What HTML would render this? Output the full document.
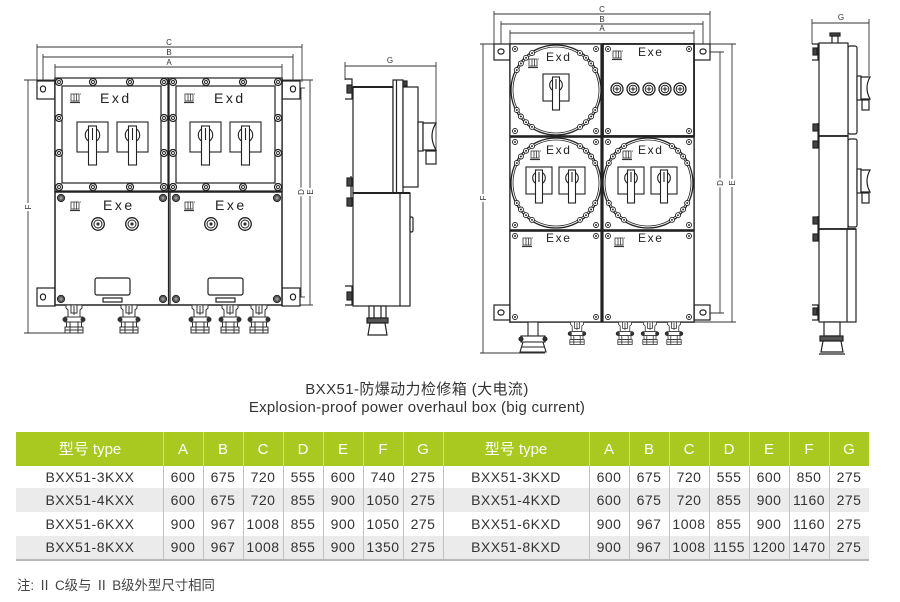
<!DOCTYPE html>
<html><head><meta charset="utf-8">
<style>
html,body{margin:0;padding:0;background:#fff;width:900px;height:602px;overflow:hidden;}
svg{display:block;}
text{font-family:"Liberation Sans","Noto Sans CJK SC",sans-serif;}
.lbl{font-size:14px;fill:#222;letter-spacing:2.5px;}
.lbl2{font-size:12px;fill:#222;letter-spacing:1.6px;}
.dim{font-size:8px;fill:#333;}
.dimr{font-size:8px;fill:#333;paint-order:stroke;stroke:#fff;stroke-width:4px;}
.hd{font-size:15px;fill:#fff;}
.td{font-size:14px;fill:#333;letter-spacing:0.5px;}
</style></head><body>
<svg width="900" height="602" viewBox="0 0 900 602" xmlns="http://www.w3.org/2000/svg">
<defs>
  <g id="b"><circle r="3.5" fill="#fff" stroke="#222" stroke-width="1.2"/><circle r="1.5" fill="none" stroke="#222" stroke-width="0.9"/></g>
  <g id="bs"><circle r="2.5" fill="#fff" stroke="#222" stroke-width="0.9"/><circle r="1" fill="#333"/></g>
  <g id="bf"><circle r="3.7" fill="#555" stroke="#222" stroke-width="0.8"/><circle r="1.6" fill="#999"/></g>
  <g id="lg" fill="none" stroke="#333" stroke-width="0.8">
    <rect x="1" y="0" width="8" height="7"/><line x1="4" y1="0" x2="4" y2="7"/><line x1="6.5" y1="0" x2="6.5" y2="7"/>
    <line x1="0" y1="8.5" x2="10" y2="8.5" stroke-width="1.2"/><line x1="10" y1="0" x2="11" y2="0"/>
  </g>
  <g id="sw" stroke="#222" stroke-width="1.1">
    <rect x="0" y="0" width="31" height="30" fill="#fff"/>
    <circle cx="15.5" cy="13" r="7.2" fill="#fff"/>
    <rect x="11.5" y="4" width="8" height="39" fill="#fff"/>
    <line x1="15.5" y1="6" x2="15.5" y2="18"/>
  </g>
  <g id="sw2" stroke="#222" stroke-width="1.1">
    <rect x="0" y="0" width="26" height="27" fill="#fff"/>
    <circle cx="13" cy="11" r="6.3" fill="#fff"/>
    <rect x="9.5" y="3" width="7" height="33" fill="#fff"/>
    <line x1="13" y1="5" x2="13" y2="15"/>
  </g>
  <g id="ind"><circle r="6.3" fill="#fff" stroke="#222" stroke-width="1.3"/><circle r="4" fill="#fff" stroke="#222" stroke-width="1"/><circle r="1.6" fill="#333"/></g>
  <g id="ind2"><circle r="6" fill="#fff" stroke="#222" stroke-width="1.3"/><circle r="3.8" fill="#fff" stroke="#222" stroke-width="1"/><line x1="-2.5" y1="0" x2="2.5" y2="0" stroke="#222"/><line x1="0" y1="-2.5" x2="0" y2="2.5" stroke="#222"/></g>
  <g id="gl" fill="#fff" stroke="#333" stroke-width="1">
    <path d="M-8,0 L-8,3 L-6,5 L-6,12 L6,12 L6,5 L8,3 L8,0 Z"/>
    <path d="M-3,0 L-3,8 L3,8 L3,0" fill="none"/>
    <line x1="0" y1="1" x2="0" y2="10"/>
    <rect x="-9" y="12" width="18" height="5"/>
    <rect x="-7.5" y="17" width="15" height="5"/>
    <rect x="-9" y="22" width="18" height="6"/>
    <line x1="-9" y1="25" x2="9" y2="25"/>
    <line x1="-4" y1="17" x2="-4" y2="28"/><line x1="4" y1="17" x2="4" y2="28"/>
    <circle cx="-9" cy="14.5" r="2" fill="#333"/><circle cx="9" cy="14.5" r="2" fill="#333"/>
  </g>
  <g id="ring">
    <circle r="45" fill="#fff" stroke="#222" stroke-width="1.3"/>
    <circle r="43" fill="none" stroke="#222" stroke-width="0.8"/>
    <use href="#bs" x="-39.2" y="-20"/><use href="#bs" x="-35.1" y="-26.5"/><use href="#bs" x="-30" y="-32.2"/><use href="#bs" x="-24" y="-36.9"/>
    <use href="#bs" x="39.2" y="-20"/><use href="#bs" x="35.1" y="-26.5"/><use href="#bs" x="30" y="-32.2"/><use href="#bs" x="24" y="-36.9"/>
    <use href="#bs" x="39.2" y="20"/><use href="#bs" x="35.1" y="26.5"/><use href="#bs" x="30" y="32.2"/><use href="#bs" x="24" y="36.9"/>
    <use href="#bs" x="-39.2" y="20"/><use href="#bs" x="-35.1" y="26.5"/><use href="#bs" x="-30" y="32.2"/><use href="#bs" x="-24" y="36.9"/>
  </g>
</defs>

<!-- ============ LEFT FRONT VIEW ============ -->
<g fill="none" stroke="#333" stroke-width="0.9">
  <line x1="37" y1="47" x2="302" y2="47"/><line x1="37" y1="44" x2="37" y2="82"/><line x1="302" y1="44" x2="302" y2="82"/>
  <line x1="43" y1="57" x2="293" y2="57"/><line x1="43" y1="54" x2="43" y2="86"/><line x1="293" y1="54" x2="293" y2="86"/>
  <line x1="55" y1="67" x2="282" y2="67"/><line x1="55" y1="64" x2="55" y2="80"/><line x1="282" y1="64" x2="282" y2="80"/>
  <line x1="24" y1="80" x2="313" y2="80"/>
  <line x1="28" y1="80" x2="28" y2="333"/><line x1="24" y1="333" x2="66" y2="333"/>
  <line x1="301" y1="88" x2="301" y2="297"/><line x1="290" y1="88" x2="305" y2="88"/><line x1="290" y1="297" x2="305" y2="297"/>
  <line x1="310" y1="80" x2="310" y2="305"/><line x1="282" y1="305" x2="313" y2="305"/>
</g>
<text class="dim" x="169" y="45" text-anchor="middle">C</text>
<text class="dim" x="169" y="55" text-anchor="middle">B</text>
<text class="dim" x="169" y="65" text-anchor="middle">A</text>
<text class="dimr" transform="translate(31,207) rotate(-90)" text-anchor="middle">F</text>
<text class="dimr" transform="translate(304,192) rotate(-90)" text-anchor="middle">D</text>
<text class="dimr" transform="translate(313,192) rotate(-90)" text-anchor="middle">E</text>

<g stroke="#222" stroke-width="1.2" fill="#fff">
  <rect x="37" y="81" width="18" height="18"/><rect x="282" y="81" width="18" height="18"/>
  <rect x="37" y="288" width="18" height="18"/><rect x="282" y="288" width="18" height="18"/>
  <rect x="40.5" y="86" width="5" height="6" rx="2.5"/><rect x="290.5" y="86" width="5" height="6" rx="2.5"/>
  <rect x="40.5" y="294" width="5" height="6" rx="2.5"/><rect x="290.5" y="294" width="5" height="6" rx="2.5"/>
  <rect x="55" y="79" width="227" height="226" stroke-width="1.5"/>
  <rect x="55" y="78" width="113" height="113"/><rect x="62" y="86" width="99" height="97"/>
  <rect x="169" y="78" width="113" height="113"/><rect x="176" y="86" width="99" height="97"/>
  <line x1="55" y1="192" x2="282" y2="192" stroke-width="1.5"/>
  <line x1="168.5" y1="192" x2="168.5" y2="305"/><line x1="170" y1="192" x2="170" y2="305"/>
  <rect x="95" y="278" width="35" height="17" rx="2"/><rect x="208" y="278" width="35" height="17" rx="2"/>
  <rect x="103" y="298" width="19" height="4"/><rect x="216" y="298" width="19" height="4"/>
</g>
<g>
  <use href="#b" x="59" y="82"/><use href="#b" x="93" y="82"/><use href="#b" x="130" y="82"/><use href="#b" x="164" y="82"/>
  <use href="#b" x="59" y="187"/><use href="#b" x="93" y="187"/><use href="#b" x="130" y="187"/><use href="#b" x="164" y="187"/>
  <use href="#b" x="59" y="118"/><use href="#b" x="59" y="153"/><use href="#b" x="164" y="118"/><use href="#b" x="164" y="153"/>
  <use href="#b" x="173" y="82"/><use href="#b" x="206" y="82"/><use href="#b" x="243" y="82"/><use href="#b" x="278" y="82"/>
  <use href="#b" x="173" y="187"/><use href="#b" x="206" y="187"/><use href="#b" x="243" y="187"/><use href="#b" x="278" y="187"/>
  <use href="#b" x="173" y="118"/><use href="#b" x="173" y="153"/><use href="#b" x="278" y="118"/><use href="#b" x="278" y="153"/>
  <use href="#bf" x="61" y="198"/><use href="#bf" x="163" y="198"/><use href="#bf" x="61" y="299"/><use href="#bf" x="163" y="299"/>
  <use href="#bf" x="176" y="198"/><use href="#bf" x="277" y="198"/><use href="#bf" x="176" y="299"/><use href="#bf" x="277" y="299"/>
  <use href="#sw" x="77" y="122"/><use href="#sw" x="117" y="122"/><use href="#sw" x="190" y="122"/><use href="#sw" x="230" y="122"/>
  <use href="#lg" x="70" y="94"/><use href="#lg" x="184" y="94"/><use href="#lg" x="70" y="202"/><use href="#lg" x="184" y="202"/>
  <use href="#ind" x="98" y="224"/><use href="#ind" x="132" y="224"/><use href="#ind" x="211" y="224"/><use href="#ind" x="245" y="224"/>
  <use href="#gl" x="74" y="305"/><use href="#gl" x="129" y="305"/><use href="#gl" x="200" y="305"/><use href="#gl" x="230" y="305"/><use href="#gl" x="259" y="305"/>
</g>
<text class="lbl" x="100" y="103">Exd</text>
<text class="lbl" x="214" y="103">Exd</text>
<text class="lbl" x="103" y="210">Exe</text>
<text class="lbl" x="215" y="210">Exe</text>

<!-- ============ SIDE VIEW 1 ============ -->
<g fill="none" stroke="#333" stroke-width="0.9">
  <line x1="345" y1="66" x2="436" y2="66"/><line x1="345" y1="62" x2="345" y2="80"/><line x1="436" y1="62" x2="436" y2="164"/>
</g>
<text class="dim" x="390" y="63" text-anchor="middle">G</text>
<g stroke="#222" stroke-width="1.2" fill="#fff">
  <rect x="353" y="87" width="40" height="106"/>
  <line x1="353" y1="87" x2="393" y2="87" stroke-width="2"/>
  <rect x="393" y="80" width="10" height="113"/><line x1="396.5" y1="80" x2="396.5" y2="193"/>
  <rect x="403" y="81" width="4" height="5" fill="#444"/>
  <rect x="403" y="87" width="15" height="100"/>
  <rect x="418" y="122" width="5" height="29"/>
  <path d="M423,123 L436,123 Q428,136 436,150 L423,150 Z"/>
  <rect x="426" y="151" width="10" height="13"/>
  <rect x="353" y="193" width="57" height="113"/>
  <line x1="353" y1="193" x2="410" y2="193" stroke-width="2"/>
  <line x1="400" y1="193" x2="400" y2="306"/>
  <rect x="410" y="217" width="3" height="15" rx="1.5"/>
  <path d="M345,79 L352,79 L352,99 L345,99" fill="none"/>
  <rect x="347" y="85" width="5" height="8" fill="#444"/>
  <line x1="351" y1="176" x2="351" y2="207"/>
  <rect x="347" y="178" width="5" height="8" fill="#444"/><rect x="347" y="198" width="5" height="8" fill="#444"/>
  <path d="M345,286 L352,286 L352,305 L345,305" fill="none"/>
  <rect x="347" y="292" width="5" height="8" fill="#444"/>
  <rect x="369" y="306" width="17" height="12"/>
  <line x1="374" y1="306" x2="374" y2="318"/><line x1="381" y1="306" x2="381" y2="318"/>
  <rect x="367" y="318" width="21" height="5" fill="#555"/>
  <path d="M370,323 L385,323 L387,335 L368,335 Z"/>
</g>

<!-- ============ RIGHT FRONT VIEW ============ -->
<g fill="none" stroke="#333" stroke-width="0.9">
  <line x1="494" y1="14" x2="710" y2="14"/><line x1="494" y1="11" x2="494" y2="45"/><line x1="710" y1="11" x2="710" y2="45"/>
  <line x1="501" y1="24" x2="703" y2="24"/><line x1="501" y1="21" x2="501" y2="50"/><line x1="703" y1="21" x2="703" y2="50"/>
  <line x1="510" y1="33" x2="694" y2="33"/><line x1="510" y1="30" x2="510" y2="44"/><line x1="694" y1="30" x2="694" y2="44"/>
  <line x1="480" y1="44" x2="736" y2="44"/>
  <line x1="483" y1="44" x2="483" y2="353"/><line x1="480" y1="353" x2="545" y2="353"/>
  <line x1="720" y1="52" x2="720" y2="313"/><line x1="703" y1="52" x2="724" y2="52"/><line x1="703" y1="313" x2="724" y2="313"/>
  <line x1="732" y1="44" x2="732" y2="322"/><line x1="694" y1="322" x2="736" y2="322"/>
</g>
<text class="dim" x="602" y="12" text-anchor="middle">C</text>
<text class="dim" x="602" y="22" text-anchor="middle">B</text>
<text class="dim" x="602" y="31" text-anchor="middle">A</text>
<text class="dimr" transform="translate(486,198) rotate(-90)" text-anchor="middle">F</text>
<text class="dimr" transform="translate(723,183) rotate(-90)" text-anchor="middle">D</text>
<text class="dimr" transform="translate(735,183) rotate(-90)" text-anchor="middle">E</text>

<g stroke="#222" stroke-width="1.2" fill="#fff">
  <rect x="494" y="44" width="16" height="16"/><rect x="694" y="44" width="16" height="16"/>
  <rect x="494" y="305" width="16" height="15"/><rect x="694" y="305" width="16" height="15"/>
  <rect x="498" y="49" width="6" height="5" rx="2.5"/><rect x="700" y="49" width="6" height="5" rx="2.5"/>
  <rect x="498" y="310" width="6" height="5" rx="2.5"/><rect x="700" y="310" width="6" height="5" rx="2.5"/>
  <rect x="510" y="44" width="184" height="278" stroke-width="1.5"/>
  <rect x="510" y="44" width="91" height="92"/>
  <rect x="603" y="44" width="91" height="92" stroke-width="1.8"/>
  <rect x="510" y="137" width="91" height="93"/>
  <rect x="603" y="137" width="91" height="93"/>
  <rect x="510" y="231" width="91" height="91"/>
  <rect x="603" y="231" width="91" height="91"/>
  <line x1="510" y1="136.5" x2="694" y2="136.5" stroke-width="2.4"/>
  <line x1="510" y1="230.5" x2="694" y2="230.5" stroke-width="2.4"/>
  <line x1="602" y1="44" x2="602" y2="322" stroke-width="1.6"/>
</g>
<g>
  <use href="#bs" x="515" y="49"/><use href="#bs" x="596" y="49"/><use href="#bs" x="515" y="131"/><use href="#bs" x="596" y="131"/>
  <use href="#bs" x="608" y="49"/><use href="#bs" x="689" y="49"/><use href="#bs" x="608" y="131"/><use href="#bs" x="689" y="131"/>
  <use href="#bs" x="515" y="142"/><use href="#bs" x="596" y="142"/><use href="#bs" x="515" y="225"/><use href="#bs" x="596" y="225"/>
  <use href="#bs" x="608" y="142"/><use href="#bs" x="689" y="142"/><use href="#bs" x="608" y="225"/><use href="#bs" x="689" y="225"/>
  <use href="#bs" x="515" y="236"/><use href="#bs" x="596" y="236"/><use href="#bs" x="515" y="317"/><use href="#bs" x="596" y="317"/>
  <use href="#bs" x="608" y="236"/><use href="#bs" x="689" y="236"/><use href="#bs" x="608" y="317"/><use href="#bs" x="689" y="317"/>
  <use href="#ring" x="556" y="90"/>
  <use href="#ring" x="556" y="183"/>
  <use href="#ring" x="648" y="183"/>
  <use href="#sw2" x="543" y="74"/>
  <use href="#sw2" x="526" y="167"/><use href="#sw2" x="559" y="167"/>
  <use href="#sw2" x="618" y="167"/><use href="#sw2" x="651" y="167"/>
  <use href="#ind2" x="617" y="89"/><use href="#ind2" x="633" y="89"/><use href="#ind2" x="649" y="89"/><use href="#ind2" x="665" y="89"/><use href="#ind2" x="680" y="89"/>
  <use href="#lg" x="528" y="59"/><use href="#lg" x="612" y="51"/>
  <use href="#lg" x="530" y="151"/><use href="#lg" x="622" y="151"/>
  <use href="#lg" x="522" y="238"/><use href="#lg" x="614" y="238"/>
  <use href="#gl" transform="translate(577,322) scale(0.8)"/>
  <use href="#gl" transform="translate(625,322) scale(0.8)"/>
  <use href="#gl" transform="translate(650,322) scale(0.8)"/>
  <use href="#gl" transform="translate(674,322) scale(0.8)"/>
</g>
<g stroke="#222" stroke-width="1.1" fill="#fff">
  <rect x="528" y="322" width="10" height="14"/>
  <rect x="521" y="336" width="24" height="6"/>
  <circle cx="521" cy="339" r="2" fill="#333"/><circle cx="545" cy="339" r="2" fill="#333"/>
  <path d="M523,342 L543,342 L546,352 L520,352 Z"/>
  <line x1="521" y1="347" x2="545" y2="347"/>
</g>
<text class="lbl2" x="546" y="61">Exd</text>
<text class="lbl2" x="638" y="56">Exe</text>
<text class="lbl2" x="546" y="154">Exd</text>
<text class="lbl2" x="638" y="154">Exd</text>
<text class="lbl2" x="546" y="242">Exe</text>
<text class="lbl2" x="638" y="242">Exe</text>

<!-- ============ SIDE VIEW 2 ============ -->
<g fill="none" stroke="#333" stroke-width="0.9">
  <line x1="812" y1="23" x2="869" y2="23"/><line x1="812" y1="19" x2="812" y2="44"/><line x1="869" y1="19" x2="869" y2="76"/>
</g>
<text class="dim" x="841" y="20" text-anchor="middle">G</text>
<g stroke="#222" stroke-width="1.2" fill="#fff">
  <rect x="832" y="36" width="6" height="8"/><rect x="830" y="33" width="10" height="3" fill="#444"/>
  <rect x="848" y="46" width="9" height="88" rx="2"/>
  <rect x="848" y="139" width="9" height="88" rx="2"/>
  <rect x="819" y="43" width="29" height="93"/>
  <rect x="819" y="136" width="29" height="93"/>
  <rect x="819" y="229" width="37" height="93"/>
  <line x1="847" y1="229" x2="847" y2="322"/>
  <line x1="819" y1="136" x2="848" y2="136" stroke-width="1.8"/>
  <line x1="819" y1="229" x2="856" y2="229" stroke-width="1.8"/>
  <rect x="857" y="76" width="4" height="24"/>
  <path d="M861,77 L870,77 Q864,88 870,99 L861,99 Z"/>
  <rect x="862" y="100" width="7" height="10"/>
  <rect x="857" y="169" width="4" height="24"/>
  <path d="M861,170 L870,170 Q864,181 870,192 L861,192 Z"/>
  <rect x="862" y="193" width="7" height="10"/>
  <path d="M812,44 L818,44 L818,60 L812,60" fill="none"/><rect x="813" y="48" width="4" height="7" fill="#444"/>
  <line x1="818" y1="123" x2="818" y2="148"/><rect x="813" y="124" width="5" height="7" fill="#444"/><rect x="813" y="141" width="5" height="7" fill="#444"/>
  <line x1="818" y1="216" x2="818" y2="241"/><rect x="813" y="217" width="5" height="7" fill="#444"/><rect x="813" y="234" width="5" height="7" fill="#444"/>
  <path d="M812,305 L818,305 L818,320 L812,320" fill="none"/><rect x="813" y="308" width="4" height="7" fill="#444"/>
  <rect x="824" y="322" width="16" height="14"/>
  <rect x="820" y="336" width="23" height="5" fill="#555"/>
  <path d="M823,341 L841,341 L843,352 L821,352 Z"/>
  <line x1="819" y1="354" x2="845" y2="354"/>
</g>

<!-- ============ CAPTION ============ -->
<text x="417" y="394" text-anchor="middle" style="font-size:15px;fill:#333;letter-spacing:0.4px">BXX51-防爆动力检修箱 (大电流)</text>
<text x="417" y="412" text-anchor="middle" style="font-size:15px;fill:#333;letter-spacing:0.25px">Explosion-proof power overhaul box (big current)</text>

<!-- ============ TABLE ============ -->
<rect x="16" y="432" width="853" height="34" fill="#a9c920"/>
<rect x="16" y="466" width="853" height="22" fill="#fff"/>
<rect x="16" y="488" width="853" height="24" fill="#ebebeb"/>
<rect x="16" y="512" width="853" height="24" fill="#fff"/>
<rect x="16" y="536" width="853" height="23" fill="#ebebeb"/>
<rect x="16" y="559" width="853" height="2" fill="#b8b8b8"/>
<g stroke="#cfe088" stroke-width="1">
  <line x1="163.5" y1="432" x2="163.5" y2="466"/><line x1="203.5" y1="432" x2="203.5" y2="466"/><line x1="243.5" y1="432" x2="243.5" y2="466"/><line x1="283.5" y1="432" x2="283.5" y2="466"/><line x1="323.5" y1="432" x2="323.5" y2="466"/><line x1="363.5" y1="432" x2="363.5" y2="466"/><line x1="403.5" y1="432" x2="403.5" y2="466"/><line x1="443.5" y1="432" x2="443.5" y2="466"/>
  <line x1="589.5" y1="432" x2="589.5" y2="466"/><line x1="629.5" y1="432" x2="629.5" y2="466"/><line x1="669.5" y1="432" x2="669.5" y2="466"/><line x1="709.5" y1="432" x2="709.5" y2="466"/><line x1="749.5" y1="432" x2="749.5" y2="466"/><line x1="789.5" y1="432" x2="789.5" y2="466"/><line x1="829.5" y1="432" x2="829.5" y2="466"/>
</g>
<g stroke="#c2c2c2" stroke-width="1">
  <line x1="163.5" y1="466" x2="163.5" y2="559"/><line x1="203.5" y1="466" x2="203.5" y2="559"/><line x1="243.5" y1="466" x2="243.5" y2="559"/><line x1="283.5" y1="466" x2="283.5" y2="559"/><line x1="323.5" y1="466" x2="323.5" y2="559"/><line x1="363.5" y1="466" x2="363.5" y2="559"/><line x1="403.5" y1="466" x2="403.5" y2="559"/><line x1="443.5" y1="466" x2="443.5" y2="559"/>
  <line x1="589.5" y1="466" x2="589.5" y2="559"/><line x1="629.5" y1="466" x2="629.5" y2="559"/><line x1="669.5" y1="466" x2="669.5" y2="559"/><line x1="709.5" y1="466" x2="709.5" y2="559"/><line x1="749.5" y1="466" x2="749.5" y2="559"/><line x1="789.5" y1="466" x2="789.5" y2="559"/><line x1="829.5" y1="466" x2="829.5" y2="559"/>
</g>
<g text-anchor="middle">
  <text class="hd" x="90" y="454">型号 type</text>
  <text class="hd" x="183" y="454">A</text><text class="hd" x="223" y="454">B</text><text class="hd" x="263" y="454">C</text><text class="hd" x="303" y="454">D</text><text class="hd" x="343" y="454">E</text><text class="hd" x="383" y="454">F</text><text class="hd" x="423" y="454">G</text>
  <text class="hd" x="516" y="454">型号 type</text>
  <text class="hd" x="609" y="454">A</text><text class="hd" x="649" y="454">B</text><text class="hd" x="689" y="454">C</text><text class="hd" x="729" y="454">D</text><text class="hd" x="769" y="454">E</text><text class="hd" x="809" y="454">F</text><text class="hd" x="849" y="454">G</text>
</g>
<g text-anchor="middle">
  <text class="td" x="90" y="482">BXX51-3KXX</text><text class="td" x="183" y="482">600</text><text class="td" x="223" y="482">675</text><text class="td" x="263" y="482">720</text><text class="td" x="303" y="482">555</text><text class="td" x="343" y="482">600</text><text class="td" x="383" y="482">740</text><text class="td" x="423" y="482">275</text>
  <text class="td" x="90" y="505">BXX51-4KXX</text><text class="td" x="183" y="505">600</text><text class="td" x="223" y="505">675</text><text class="td" x="263" y="505">720</text><text class="td" x="303" y="505">855</text><text class="td" x="343" y="505">900</text><text class="td" x="383" y="505">1050</text><text class="td" x="423" y="505">275</text>
  <text class="td" x="90" y="529">BXX51-6KXX</text><text class="td" x="183" y="529">900</text><text class="td" x="223" y="529">967</text><text class="td" x="263" y="529">1008</text><text class="td" x="303" y="529">855</text><text class="td" x="343" y="529">900</text><text class="td" x="383" y="529">1050</text><text class="td" x="423" y="529">275</text>
  <text class="td" x="90" y="552">BXX51-8KXX</text><text class="td" x="183" y="552">900</text><text class="td" x="223" y="552">967</text><text class="td" x="263" y="552">1008</text><text class="td" x="303" y="552">855</text><text class="td" x="343" y="552">900</text><text class="td" x="383" y="552">1350</text><text class="td" x="423" y="552">275</text>

  <text class="td" x="516" y="482">BXX51-3KXD</text><text class="td" x="609" y="482">600</text><text class="td" x="649" y="482">675</text><text class="td" x="689" y="482">720</text><text class="td" x="729" y="482">555</text><text class="td" x="769" y="482">600</text><text class="td" x="809" y="482">850</text><text class="td" x="849" y="482">275</text>
  <text class="td" x="516" y="505">BXX51-4KXD</text><text class="td" x="609" y="505">600</text><text class="td" x="649" y="505">675</text><text class="td" x="689" y="505">720</text><text class="td" x="729" y="505">855</text><text class="td" x="769" y="505">900</text><text class="td" x="809" y="505">1160</text><text class="td" x="849" y="505">275</text>
  <text class="td" x="516" y="529">BXX51-6KXD</text><text class="td" x="609" y="529">900</text><text class="td" x="649" y="529">967</text><text class="td" x="689" y="529">1008</text><text class="td" x="729" y="529">855</text><text class="td" x="769" y="529">900</text><text class="td" x="809" y="529">1160</text><text class="td" x="849" y="529">275</text>
  <text class="td" x="516" y="552">BXX51-8KXD</text><text class="td" x="609" y="552">900</text><text class="td" x="649" y="552">967</text><text class="td" x="689" y="552">1008</text><text class="td" x="729" y="552">1155</text><text class="td" x="769" y="552">1200</text><text class="td" x="809" y="552">1470</text><text class="td" x="849" y="552">275</text>
</g>

<text x="17" y="590" style="font-size:13.4px;fill:#444">注: Ⅱ C级与 Ⅱ B级外型尺寸相同</text>
</svg>
</body></html>
